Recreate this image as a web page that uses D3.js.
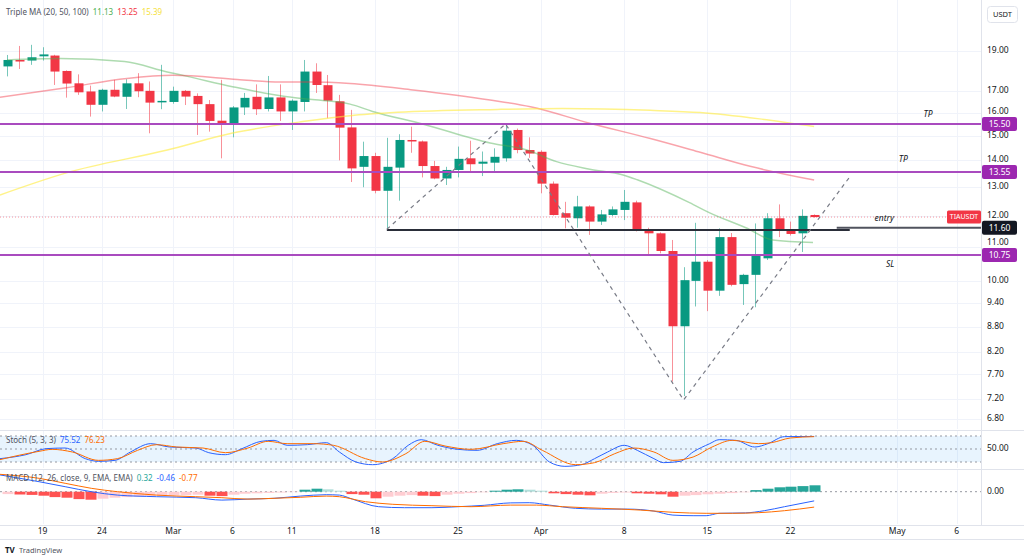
<!DOCTYPE html>
<html lang="en">
<head>
<meta charset="UTF-8">
<title>TIAUSDT Triple MA</title>
<script src="https://d3js.org/d3.v7.min.js"></script>
<style>
    body { margin: 0; background: #fff; overflow: hidden; }
    svg { font-family: "Noto Sans", Roboto, sans-serif; display: block; }
    .axis-label { font-size: 8.5px; fill: #131722; }
    .legend { font-size: 8px; }
    .note { font-size: 8.5px; font-style: italic; fill: #131722; }
</style>
</head>
<body>
<svg id="chart" width="1024" height="558"></svg>
<script>
// ---- data ----
const firstDay = "2024-02-16";

// one row per day: [open, high, low, close]
const candles = [
    [18.20, 18.79, 17.70, 18.53], [18.53, 19.27, 18.07, 18.45], [18.50, 19.33, 18.28, 18.67],
    [18.72, 19.20, 18.50, 18.82], [18.76, 18.80, 17.28, 17.94], [17.97, 18.00, 16.68, 17.35],
    [17.36, 17.80, 16.81, 16.93], [16.97, 17.25, 15.82, 16.35], [16.35, 17.10, 16.05, 17.05],
    [17.05, 17.53, 16.70, 16.73], [16.72, 17.56, 16.16, 17.36], [17.36, 17.86, 16.70, 16.98],
    [17.00, 17.45, 15.10, 16.45], [16.50, 18.28, 16.15, 16.53], [16.48, 17.20, 16.40, 17.00],
    [17.00, 17.04, 16.34, 16.73], [16.76, 16.88, 15.03, 16.38], [16.38, 16.57, 15.17, 15.63],
    [15.64, 17.53, 14.08, 15.53], [15.53, 16.29, 14.93, 16.23], [16.23, 16.90, 15.89, 16.67],
    [16.72, 17.31, 15.89, 16.15], [16.16, 17.72, 16.05, 16.69], [16.69, 17.31, 15.63, 16.05],
    [16.05, 16.60, 15.24, 16.54], [16.48, 18.53, 16.05, 17.94], [17.94, 18.36, 16.90, 17.28],
    [17.27, 17.77, 15.75, 16.54], [16.51, 16.81, 14.00, 15.34], [15.35, 16.12, 13.18, 13.69],
    [13.75, 14.75, 12.99, 14.17], [14.17, 14.30, 12.77, 12.86], [12.86, 14.91, 11.55, 13.75],
    [13.72, 15.06, 12.51, 14.82], [14.82, 15.38, 14.30, 14.76], [14.76, 14.80, 13.35, 13.78],
    [13.78, 13.98, 13.28, 13.31], [13.31, 13.75, 13.07, 13.63], [13.63, 14.55, 13.35, 14.06],
    [14.08, 14.79, 13.56, 13.85], [13.87, 14.35, 13.40, 13.95], [13.91, 14.48, 13.56, 14.14],
    [14.08, 15.50, 13.95, 15.21], [15.24, 15.30, 14.28, 14.41], [14.41, 14.93, 14.10, 14.27],
    [14.34, 14.40, 12.77, 13.12], [13.12, 13.20, 12.00, 12.02], [12.08, 12.47, 11.58, 11.93],
    [11.91, 12.68, 11.60, 12.31], [12.31, 12.35, 11.37, 11.80], [11.80, 12.19, 11.69, 12.04],
    [12.02, 12.31, 11.98, 12.21], [12.19, 12.89, 11.85, 12.47], [12.45, 12.51, 11.48, 11.51],
    [11.55, 11.60, 10.78, 11.42], [11.42, 11.45, 10.80, 10.87], [10.87, 11.21, 7.55, 8.81],
    [8.81, 10.39, 7.25, 10.02], [10.00, 11.76, 9.31, 10.55], [10.55, 10.60, 9.19, 9.73],
    [9.73, 11.58, 9.59, 11.30], [11.30, 11.43, 9.85, 9.89], [9.91, 10.20, 9.35, 10.17],
    [10.17, 11.74, 9.29, 10.72], [10.65, 12.08, 10.60, 11.91], [11.91, 12.38, 11.30, 11.53],
    [11.51, 11.80, 11.35, 11.40], [11.42, 12.21, 10.84, 11.99], [12.02, 12.04, 11.93, 11.95]
];

// moving averages: [day index, value]
const ma20 = [[0, 18.53], [4.5, 18.6], [9.9, 18.45], [13.5, 17.92], [15.2, 17.7], [19, 17.2],
    [23.6, 16.72], [25.5, 16.6], [28.9, 16.38], [30.8, 16.05], [35, 15.5], [40.7, 14.7],
    [43.8, 14.41], [46.3, 13.95], [49.1, 13.66], [51.9, 13.44], [53.1, 13.26], [57.5, 12.44],
    [59.2, 12.09], [62.3, 11.59], [64.5, 11.21], [67.9, 11.13]];
const ma50 = [[-0.6, 16.7], [5, 17.15], [10.1, 17.6], [14, 17.75], [19.4, 17.55], [23, 17.42],
    [25.5, 17.42], [28.9, 17.35], [34.2, 17.04], [40.7, 16.57], [44.1, 16.26], [49.1, 15.53],
    [54.2, 14.88], [58.4, 14.32], [62.6, 13.77], [68, 13.25]];
const ma100 = [[-0.6, 12.71], [5, 13.52], [13.5, 14.41], [19, 15.11], [24.9, 15.6], [28.9, 15.86],
    [32.9, 16.01], [41.3, 16.14], [46.8, 16.18], [54.2, 16.1], [58.4, 16.0], [63.4, 15.72], [68, 15.39]];

const tpLevels = [15.50, 13.55];
const slLevel = 10.75;
const entryLevel = 11.60;
const supportLevel = 11.53;
const lastPrice = 11.95;
const pattern = [[32, 11.55], [42, 15.5], [57, 7.17], [71, 13.37]];
const notes = [["TP", 77.6, 15.89], ["TP", 75.5, 14.02], ["entry", 73.9, 11.9], ["SL", 74.4, 10.45]];

const priceTicks = [19, 17, 16, 15, 14, 13, 12, 11, 10, 9.4, 8.8, 8.2, 7.7, 7.2, 6.8];
const dateTicks = ["2024-02-19", "2024-02-24", "2024-03-01", "2024-03-06", "2024-03-11", "2024-03-18",
    "2024-03-25", "2024-04-01", "2024-04-08", "2024-04-15", "2024-04-22", "2024-05-01", "2024-05-06"];

// stochastic %K / %D: [day index, value]
const stochK = [[-0.6, 27.7], [1.6, 36.9], [3.3, 50.8], [4.9, 52.3], [6.6, 27.7], [7.7, 21.5], [9.1, 23.8],
    [10.4, 43.1], [12.1, 62.3], [13.7, 54.6], [15.9, 52.3], [17, 41.5], [18.4, 36.9], [19.8, 50.8],
    [21.4, 67.7], [22.5, 70], [23.6, 58.5], [25.3, 60], [26.9, 64.6], [28, 43.1], [29.4, 20], [30.8, 13.8],
    [32.5, 27.7], [33.8, 58.5], [34.9, 71.5], [36.3, 58.5], [38, 49.2], [39.6, 46.9], [41.3, 62.3],
    [42.9, 70], [44.3, 58.5], [45.7, 20], [47, 10], [48.4, 13.8], [49.5, 27.7], [50.6, 43.1], [52, 58.5],
    [53.1, 46.9], [54.5, 27.7], [55.3, 18.5], [56.7, 21.5], [57.8, 43.1], [59.2, 62.3], [60, 71.5],
    [61.4, 70], [63, 54.6], [64.1, 62.3], [65.5, 78.5], [68, 79]];
const stochD = [[-0.6, 25.4], [2.7, 44.6], [3.8, 49.2], [5.5, 43.1], [7.7, 23.8], [9.3, 27.7], [11, 46.9],
    [12.6, 60], [14.3, 54.6], [16.5, 52.3], [18.4, 41.5], [20.3, 52.3], [22, 67.7], [23.6, 62.3],
    [25.8, 62.3], [27.5, 58.5], [30.2, 27.7], [31.6, 20], [33.6, 39.2], [35.2, 67.7], [36.9, 56.9],
    [39.1, 49.2], [41.8, 62.3], [43.5, 67.7], [45.1, 46.9], [47.9, 13.8], [49.5, 18.5], [51.2, 39.2],
    [52.8, 52.3], [54.5, 43.1], [56.1, 23.8], [57.8, 31.5], [59.4, 54.6], [61.1, 70], [63.3, 62.3],
    [64.4, 64.6], [66, 75.4], [68, 78.5]];

// MACD line / signal: [day index, value]; histogram one per day
const macdLine = [[-0.6, 0.84], [2.7, 0.5], [4.9, 0.25], [7.1, 0], [9.3, -0.17], [12.6, -0.25], [15.9, -0.3],
    [18.1, -0.42], [20.3, -0.37], [22.5, -0.33], [24.7, -0.22], [26.9, -0.15], [28, -0.17], [29.1, -0.37],
    [31.3, -0.75], [33.5, -0.8], [35.8, -0.8], [38, -0.75], [40.2, -0.68], [42.4, -0.56], [44, -0.55],
    [45.7, -0.67], [47.9, -0.83], [50.1, -0.87], [52.3, -0.87], [54.5, -0.97], [56.1, -1.17], [57.8, -1.2],
    [58.9, -1.2], [60, -1.08], [62.2, -1.06], [63.8, -0.95], [65.5, -0.75], [68, -0.46]];
const signalLine = [[-0.6, 0.87], [2.7, 0.67], [4.9, 0.42], [7.1, 0.17], [9.3, 0], [12.6, -0.17],
    [15.9, -0.25], [18.1, -0.3], [20.3, -0.37], [22.5, -0.33], [24.7, -0.28], [26.9, -0.22], [28, -0.25],
    [30.2, -0.5], [32.5, -0.63], [35.8, -0.7], [39.1, -0.75], [42.4, -0.67], [44.6, -0.67], [46.8, -0.75],
    [50.1, -0.83], [53.4, -0.92], [56.1, -1.03], [58.9, -1.08], [61.1, -1.08], [63.3, -1.05], [65.5, -0.95],
    [68, -0.77]];
const histogram = [-0.12, -0.14, -0.16, -0.2, -0.27, -0.3, -0.37, -0.4, -0.35, -0.3, -0.27, -0.25, -0.22,
    -0.2, -0.18, -0.17, -0.15, -0.2, -0.22, -0.15, -0.1, -0.08, -0.06, -0.04, -0.02, 0.1, 0.15, 0.12, 0.05,
    -0.12, -0.15, -0.33, -0.25, -0.2, -0.17, -0.2, -0.22, -0.15, -0.1, -0.07, -0.03, 0.05, 0.1, 0.12, 0.1,
    0.05, -0.08, -0.12, -0.15, -0.18, -0.1, -0.06, -0.04, -0.08, -0.1, -0.13, -0.25, -0.2, -0.17, -0.13,
    -0.1, -0.07, -0.03, 0.08, 0.15, 0.22, 0.25, 0.28, 0.32];

// ---- layout ----
const plotR = 981;
const pane = {
    main: [0, 429],
    stoch: [431, 468],
    macd: [470, 524]
};
const grid = "#f0f3fa";
const up = "#089981", down = "#f23645", purple = "#a94bbf";

const svg = d3.select("#chart");
const parse = d3.utcParse("%Y-%m-%d");
const day0 = parse(firstDay);
const dayIdx = s => d3.utcDay.count(day0, parse(s));

const x = d3.scaleLinear().domain([0, 68]).range([7, 7 + 68 * 11.87]);
const yP = d3.scaleLog().domain([6.8, 19]).range([419, 51]);
const yS = d3.scaleLinear().domain([20, 80]).range([462, 436]);
const yM = d3.scaleLinear().domain([-1, 0]).range([511.7, 491.7]);

// clip paths per pane
const defs = svg.append("defs");
Object.entries(pane).forEach(([k, [t, b]]) => {
    defs.append("clipPath").attr("id", "clip-" + k)
        .append("rect").attr("x", 0).attr("y", t).attr("width", plotR).attr("height", b - t);
});

// pane separators and grid
const sep = svg.append("g").attr("stroke", "#e0e3eb");
[430, 469, 525].forEach(y => sep.append("line").attr("x1", 0).attr("x2", 1024).attr("y1", y + 0.5).attr("y2", y + 0.5));
sep.append("line").attr("x1", plotR + 0.5).attr("x2", plotR + 0.5).attr("y1", 0).attr("y2", 525);

const vgrid = svg.append("g").attr("stroke", grid);
dateTicks.forEach(d => {
    const xx = Math.round(x(dayIdx(d))) + 0.5;
    vgrid.append("line").attr("x1", xx).attr("x2", xx).attr("y1", 0).attr("y2", 429);
    vgrid.append("line").attr("x1", xx).attr("x2", xx).attr("y1", 431).attr("y2", 468);
    vgrid.append("line").attr("x1", xx).attr("x2", xx).attr("y1", 470).attr("y2", 524);
});
priceTicks.forEach(v => {
    const yy = Math.round(yP(v)) + 0.5;
    vgrid.append("line").attr("x1", 0).attr("x2", plotR).attr("y1", yy).attr("y2", yy);
});

// ---- main pane ----
const main = svg.append("g").attr("clip-path", "url(#clip-main)");
const lineP = d3.line().x(d => x(d[0])).y(d => yP(d[1])).curve(d3.curveMonotoneX);

// candles
const cg = main.append("g");
candles.forEach((c, i) => {
    const [o, h, l, cl] = c;
    const col = cl >= o ? up : down;
    const xx = Math.round(x(i));
    cg.append("line").attr("x1", xx + 0.5).attr("x2", xx + 0.5)
        .attr("y1", yP(h)).attr("y2", yP(l)).attr("stroke", col).attr("stroke-opacity", 0.55);
    const top = yP(Math.max(o, cl)), bot = yP(Math.min(o, cl));
    cg.append("rect").attr("x", xx - 3.5).attr("width", 9)
        .attr("y", top).attr("height", Math.max(1.5, bot - top)).attr("fill", col);
});

// MAs
[[ma20, "rgba(76,175,80,0.45)"], [ma50, "rgba(242,54,69,0.45)"], [ma100, "rgba(255,235,59,0.6)"]]
    .forEach(([d, col]) => main.append("path").datum(d).attr("d", lineP)
        .attr("fill", "none").attr("stroke", col).attr("stroke-width", 1.5));

// last price dotted line
main.append("line").attr("x1", 0).attr("x2", plotR)
    .attr("y1", yP(lastPrice)).attr("y2", yP(lastPrice))
    .attr("stroke", down).attr("stroke-opacity", 0.5).attr("stroke-dasharray", "1,2");

// purple levels
tpLevels.concat([slLevel]).forEach(v => {
    main.append("line").attr("x1", 0).attr("x2", plotR).attr("y1", yP(v)).attr("y2", yP(v))
        .attr("stroke", purple).attr("stroke-width", 2);
});

// black support and entry lines
main.append("line").attr("x1", x(pattern[0][0])).attr("x2", x(pattern[3][0]))
    .attr("y1", yP(supportLevel)).attr("y2", yP(supportLevel))
    .attr("stroke", "#2a2e39").attr("stroke-width", 2);
main.append("line").attr("x1", x(69.9)).attr("x2", plotR)
    .attr("y1", yP(entryLevel)).attr("y2", yP(entryLevel))
    .attr("stroke", "#50535e").attr("stroke-width", 2);

// dashed pattern
main.append("path").datum(pattern)
    .attr("d", d3.line().x(d => x(d[0])).y(d => yP(d[1])))
    .attr("fill", "none").attr("stroke", "#787b86").attr("stroke-width", 1.2)
    .attr("stroke-dasharray", "4,4");

notes.forEach(([t, i, v]) => {
    main.append("text").attr("class", "note").attr("x", x(i)).attr("y", yP(v))
        .attr("text-anchor", "middle").attr("dominant-baseline", "middle").text(t);
});

// symbol tag
svg.append("rect").attr("x", 947).attr("y", yP(lastPrice) - 6.5).attr("width", 34).attr("height", 13)
    .attr("rx", 1.5).attr("fill", down);
svg.append("text").attr("x", 964).attr("y", yP(lastPrice)).attr("text-anchor", "middle")
    .attr("dominant-baseline", "middle").attr("fill", "#fff").attr("font-size", 7).text("TIAUSDT");

// ---- price axis ----
const tagLevels = tpLevels.concat([slLevel, entryLevel]);
priceTicks.forEach(v => {
    let yy = yP(v);
    tagLevels.forEach(t => {
        const d = yy - yP(t);
        if (Math.abs(d) < 12) yy = yP(t) + (d < 0 ? -12 : 12);
    });
    svg.append("text").attr("class", "axis-label").attr("x", 987).attr("y", yy)
        .attr("dominant-baseline", "middle").text(v.toFixed(2));
});
function axisTag(v, col) {
    svg.append("rect").attr("x", 982).attr("y", yP(v) - 7).attr("width", 35).attr("height", 14)
        .attr("rx", 2).attr("fill", col);
    svg.append("text").attr("x", 999.5).attr("y", yP(v) + 0.5).attr("text-anchor", "middle")
        .attr("dominant-baseline", "middle").attr("fill", "#fff").attr("font-size", 8.5).text(v.toFixed(2));
}
tpLevels.forEach(v => axisTag(v, "#9c27b0"));
axisTag(slLevel, "#9c27b0");
axisTag(entryLevel, "#131722");

svg.append("rect").attr("x", 987.5).attr("y", 6.5).attr("width", 30).attr("height", 16).attr("rx", 3)
    .attr("fill", "#fff").attr("stroke", "#e0e3eb");
svg.append("text").attr("x", 1002.5).attr("y", 15).attr("text-anchor", "middle")
    .attr("dominant-baseline", "middle").attr("font-size", 7.5).attr("fill", "#131722").text("USDT");

// legend
function legend(y, parts) {
    const t = svg.append("text").attr("class", "legend").attr("x", 6).attr("y", y)
        .attr("dominant-baseline", "middle");
    parts.forEach(([s, col], k) => t.append("tspan").attr("dx", k ? 4 : 0).attr("fill", col).text(s));
}
legend(13, [["Triple MA (20, 50, 100)", "#50535e"], ["11.13", "#4caf50"], ["13.25", "#f23645"], ["15.39", "#f5e13a"]]);

// ---- stochastic pane ----
const st = svg.append("g").attr("clip-path", "url(#clip-stoch)");
st.append("rect").attr("x", 0).attr("width", plotR).attr("y", yS(80)).attr("height", yS(20) - yS(80))
    .attr("fill", "rgba(33,150,243,0.1)");
[80, 50, 20].forEach(v => st.append("line").attr("x1", 0).attr("x2", plotR)
    .attr("y1", yS(v)).attr("y2", yS(v)).attr("stroke", "#9598a1").attr("stroke-dasharray", "2,3"));
const lineS = d3.line().x(d => x(d[0])).y(d => yS(d[1])).curve(d3.curveMonotoneX);
st.append("path").datum(stochK).attr("d", lineS).attr("fill", "none").attr("stroke", "#2962ff").attr("stroke-width", 1);
st.append("path").datum(stochD).attr("d", lineS).attr("fill", "none").attr("stroke", "#ff6d00").attr("stroke-width", 1);
legend(441, [["Stoch (5, 3, 3)", "#50535e"], ["75.52", "#2962ff"], ["76.23", "#ff6d00"]]);
svg.append("text").attr("class", "axis-label").attr("x", 987).attr("y", yS(50))
    .attr("dominant-baseline", "middle").text("50.00");

// ---- MACD pane ----
const mg = svg.append("g").attr("clip-path", "url(#clip-macd)");
mg.append("line").attr("x1", 0).attr("x2", plotR).attr("y1", yM(0)).attr("y2", yM(0))
    .attr("stroke", "#9598a1").attr("stroke-dasharray", "2,3");
histogram.forEach((v, i) => {
    const prev = i ? histogram[i - 1] : v;
    const col = v >= 0 ? (v >= prev ? "#26a69a" : "#b2dfdb") : (v < prev ? "#ff5252" : "#ffcdd2");
    const xx = Math.round(x(i));
    mg.append("rect").attr("x", xx - 4.5).attr("width", 11)
        .attr("y", Math.min(yM(v), yM(0))).attr("height", Math.abs(yM(v) - yM(0)))
        .attr("fill", col);
});
const lineM = d3.line().x(d => x(d[0])).y(d => yM(d[1])).curve(d3.curveMonotoneX);
mg.append("path").datum(macdLine).attr("d", lineM).attr("fill", "none").attr("stroke", "#2962ff").attr("stroke-width", 1);
mg.append("path").datum(signalLine).attr("d", lineM).attr("fill", "none").attr("stroke", "#ff6d00").attr("stroke-width", 1);
legend(479, [["MACD (12, 26, close, 9, EMA, EMA)", "#50535e"], ["0.32", "#26a69a"], ["-0.46", "#2962ff"], ["-0.77", "#ff6d00"]]);
svg.append("text").attr("class", "axis-label").attr("x", 987).attr("y", yM(0))
    .attr("dominant-baseline", "middle").text("0.00");

// ---- time axis ----
const fmt = d => d.getUTCDate() === 1 ? d3.utcFormat("%b")(d) : d3.utcFormat("%-d")(d);
dateTicks.forEach(s => {
    svg.append("text").attr("class", "axis-label").attr("x", x(dayIdx(s))).attr("y", 532)
        .attr("text-anchor", "middle").attr("dominant-baseline", "middle").text(fmt(parse(s)));
});
svg.append("line").attr("x1", 0).attr("x2", 1024).attr("y1", 539.5).attr("y2", 539.5).attr("stroke", "#e0e3eb");

// watermark
svg.append("text").attr("x", 5).attr("y", 551).attr("dominant-baseline", "middle")
    .attr("font-size", 8).attr("font-weight", "bold").attr("fill", "#131722").text("TV");
svg.append("text").attr("x", 19).attr("y", 551).attr("dominant-baseline", "middle")
    .attr("font-size", 7.5).attr("fill", "#50535e").text("TradingView");
</script>
</body>
</html>
